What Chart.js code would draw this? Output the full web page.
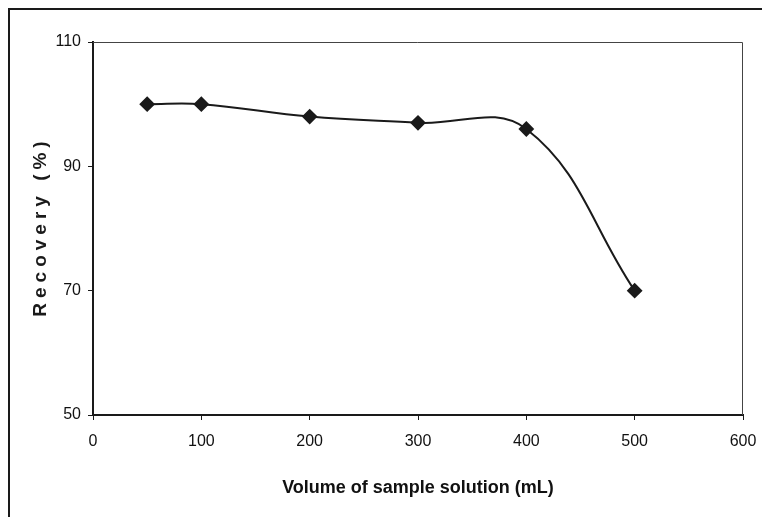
<!DOCTYPE html>
<html>
<head>
<meta charset="utf-8">
<script src="https://cdn.jsdelivr.net/npm/chart.js@4.4.1/dist/chart.umd.min.js"></script>
<style>
  html, body { margin: 0; padding: 0; background: #fff; }
  #wrap { width: 762px; height: 517px; position: relative; }
</style>
</head>
<body>
<div id="wrap"><canvas id="recoveryChart"></canvas></div>
<script>
// values
const volumes = [50, 100, 200, 300, 400, 500];
const recovery = [100, 100, 98, 97, 96, 70];
const xTicks = [0, 100, 200, 300, 400, 500, 600];
const yTicks = [50, 70, 90, 110];

const sans = "'Liberation Sans', Arial, sans-serif";
const ink = '#1a1a1a';

// outer frame + plot box + letter-spaced y title
const framePlugin = {
    id: 'frame',
    beforeDraw(chart) {
        const ctx = chart.ctx;
        ctx.save();
        ctx.fillStyle = '#fff';
        ctx.fillRect(0, 0, chart.width, chart.height);
        ctx.strokeStyle = ink;
        ctx.lineWidth = 2;
        ctx.beginPath();
        ctx.moveTo(9, chart.height);
        ctx.lineTo(9, 9);
        ctx.lineTo(chart.width, 9);
        ctx.stroke();
        ctx.restore();
    },
    afterDraw(chart) {
        const ctx = chart.ctx;
        const a = chart.chartArea;
        ctx.save();
        ctx.strokeStyle = '#444';
        ctx.lineWidth = 1;
        ctx.beginPath();
        ctx.moveTo(a.left, a.top + 0.5);
        ctx.lineTo(a.right - 0.5, a.top + 0.5);
        ctx.lineTo(a.right - 0.5, a.bottom);
        ctx.stroke();

        ctx.translate(41, (a.top + a.bottom) / 2);
        ctx.rotate(-Math.PI / 2);
        ctx.font = "bold 19px " + sans;
        ctx.letterSpacing = '5px';
        ctx.fillStyle = ink;
        ctx.textAlign = 'center';
        ctx.textBaseline = 'middle';
        ctx.fillText('Recovery (%)', 2, 0);
        ctx.restore();
    }
};

const ctx = document.getElementById('recoveryChart').getContext('2d');

new Chart(ctx, {
    type: 'line',
    data: {
        datasets: [{
            data: volumes.map((v, i) => ({ x: v, y: recovery[i] })),
            borderColor: ink,
            borderWidth: 2,
            tension: 0.4,
            pointStyle: 'rectRot',
            pointRadius: 6.5,
            pointBackgroundColor: ink,
            pointBorderColor: ink,
            fill: false
        }]
    },
    options: {
        responsive: true,
        maintainAspectRatio: false,
        animation: false,
        layout: { padding: { left: 0, top: 42, right: 19, bottom: 0 } },
        plugins: {
            legend: { display: false },
            tooltip: { enabled: false }
        },
        scales: {
            x: {
                type: 'linear',
                min: 0,
                max: 600,
                afterBuildTicks: s => { s.ticks = xTicks.map(v => ({ value: v })); },
                afterFit: s => { s.height = 102; s.paddingLeft = 0; s.paddingRight = 0; },
                grid: { drawOnChartArea: false, tickLength: 5, color: ink, tickWidth: 1 },
                border: { color: ink, width: 2 },
                ticks: { color: '#111', padding: 12, font: { family: sans, size: 16 } },
                title: {
                    display: true,
                    text: 'Volume of sample solution (mL)',
                    color: '#111',
                    font: { family: sans, size: 18, weight: 'bold' },
                    padding: { top: 4, bottom: 18 }
                }
            },
            y: {
                min: 50,
                max: 110,
                afterBuildTicks: s => { s.ticks = yTicks.map(v => ({ value: v })); },
                afterFit: s => { s.width = 93; s.paddingTop = 0; s.paddingBottom = 0; },
                grid: { drawOnChartArea: false, tickLength: 5, color: ink, tickWidth: 1 },
                border: { color: ink, width: 2 },
                ticks: { color: '#111', padding: 7, font: { family: sans, size: 16 } }
            }
        }
    },
    plugins: [framePlugin]
});
</script>
</body>
</html>
